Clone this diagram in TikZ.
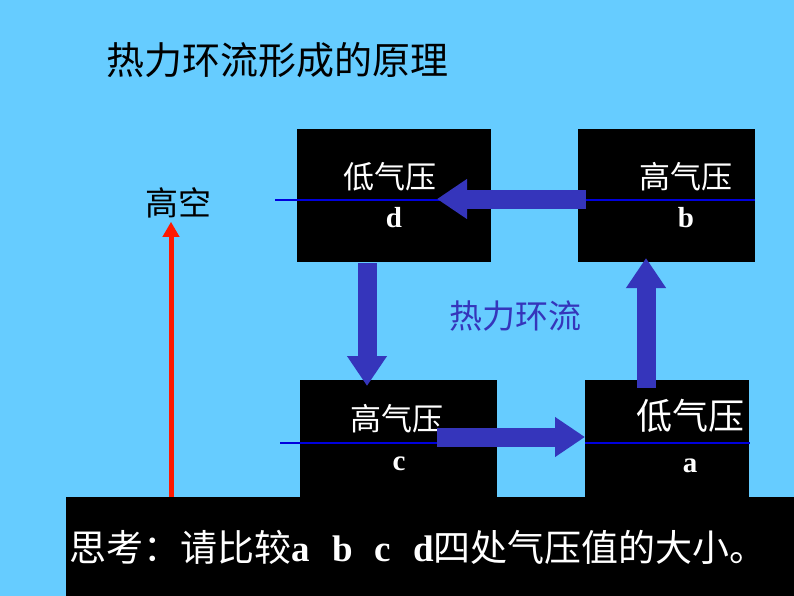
\documentclass[tikz,border=0pt]{standalone}
\usepackage{fontspec}
\setmainfont{Liberation Serif}
\newfontfamily\cjk{Noto Sans CJK SC}
\usetikzlibrary{arrows.meta,positioning}
\definecolor{skyback}{HTML}{66CCFF}
\definecolor{flowblue}{HTML}{3535BB}
\definecolor{isobar}{HTML}{0000DD}
\tikzset{
    pbox/.style={fill=black, inner sep=0pt, anchor=north west},
    plabel/.style={text=white, font=\cjk\fontsize{31}{32}\selectfont},
    pletter/.style={text=white, font=\bfseries\fontsize{29}{30}\selectfont},
    flow/.style={draw=flowblue, line width=19pt, -{Triangle[width=38pt,length=30pt]}},
    iso/.style={isobar, line width=1.8pt},
}
\begin{document}
\begin{tikzpicture}[x=1pt,y=-1pt]
    % background
    \fill[skyback] (0,0) rectangle (794,596);
    \useasboundingbox (0,0) rectangle (794,596);

    % title
    \node[anchor=west, font=\cjk\fontsize{38}{40}\selectfont] (title) at (103,60) {热力环流形成的原理};

    % pressure boxes
    \node[pbox, minimum width=194pt, minimum height=133pt] (boxd) at (297,129) {};
    \node[pbox, minimum width=177pt, minimum height=133pt] (boxb) at (578,129) {};
    \node[pbox, minimum width=197pt, minimum height=120pt] (boxc) at (300,380) {};
    \node[pbox, minimum width=164pt, minimum height=120pt] (boxa) at (585,380) {};

    % isobars
    \draw[iso] (275,200) -- (491,200);
    \draw[iso] (586,200) -- (755,200);
    \draw[iso] (280,443) -- (497,443);
    \draw[iso] (585,443) -- (750,443);

    % texts in boxes
    \node[plabel] (lowd) at (390,177) {低气压};
    \node[pletter] (letd) at (394,218) {d};
    \node[plabel] (highb) at (686,177) {高气压};
    \node[pletter] (letb) at (686,218) {b};
    \node[plabel] (highc) at (397,419) {高气压};
    \node[pletter] (letc) at (399,464) {c};
    \node[plabel, font=\cjk\fontsize{36}{38}\selectfont] (lowa) at (690,416) {低气压};
    \node[pletter] (leta) at (690,466) {a};

    % circulation arrows
    \coordinate (bstart) at (586,199);
    \coordinate (dend) at (437,199);
    \coordinate (dstart) at (367,263);
    \coordinate (cend) at (367,386);
    \coordinate (cstart) at (437,437);
    \coordinate (aend) at (585,437);
    \coordinate (astart) at (646,388);
    \coordinate (bend) at (646,258);
    \draw[flow] (bstart) -- (dend);
    \draw[flow] (dstart) -- (cend);
    \draw[flow] (cstart) -- (aend);
    \draw[flow] (astart) -- (bend);
    \node[text=flowblue, font=\cjk\fontsize{33}{35}\selectfont] (loop) at (515,316) {热力环流};

    % height axis
    \node[font=\cjk\fontsize{33}{35}\selectfont] (sky) at (178,203) {高空};
    \coordinate (ground) at (171,498);
    \draw[red!80!orange, line width=5pt, -{Triangle[width=16pt,length=15pt]}] (ground) -- (sky.south -| ground);

    % question bar
    \node[pbox, minimum width=728pt, minimum height=99pt] (bar) at (66,497) {};
    \node[anchor=west, text=white, font=\fontsize{37}{39}\selectfont] (question) at (66,547)
        {\cjk 思考：请比较\normalfont\bfseries a\hspace{22pt}b\hspace{22pt}c\hspace{22pt}d\cjk\mdseries 四处气压值的大小。};
\end{tikzpicture}
\end{document}
